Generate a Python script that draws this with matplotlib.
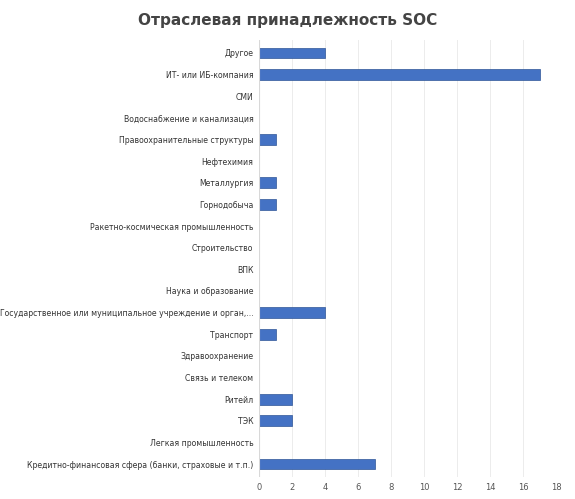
import matplotlib
matplotlib.use('Agg')
from matplotlib import pyplot as plt

categories = ['Другое', 'ИТ- или ИБ-компания', 'СМИ', 'Водоснабжение и канализация',
              'Правоохранительные структуры', 'Нефтехимия', 'Металлургия', 'Горнодобыча',
              'Ракетно-космическая промышленность', 'Строительство', 'ВПК',
              'Наука и образование', 'Государственное или муниципальное учреждение и орган,...',
              'Транспорт', 'Здравоохранение', 'Связь и телеком', 'Ритейл', 'ТЭК',
              'Легкая промышленность', 'Кредитно-финансовая сфера (банки, страховые и т.п.)']
values = [4, 17, 0, 0, 1, 0, 1, 1, 0, 0, 0, 0, 4, 1, 0, 0, 2, 2, 0, 7]
xticks = [0, 2, 4, 6, 8, 10, 12, 14, 16, 18]

fig = plt.figure(figsize=(5.75, 4.99), dpi=100)
ax = fig.add_axes([259/575, 22/499, 297/575, 437/499])
y = list(range(len(categories)))[::-1]
ax.barh(y, values, height=0.5, color='#4472c4', edgecolor='#2f5597', linewidth=0.5)
ax.set_yticks(y)
ax.set_yticklabels(categories, fontsize=5.6, color='#333333')
ax.set_xticks(xticks)
ax.set_xticklabels([str(t) for t in xticks], fontsize=6, color='#555555')
ax.set_xlim(0, 18)
ax.set_ylim(-0.6, len(categories) - 0.4)
ax.grid(axis='x', color='#ececec', linewidth=0.7)
ax.set_axisbelow(True)
for s in ax.spines.values():
    s.set_visible(False)
ax.axvline(0, color='#d8d8d8', linewidth=0.8)
ax.tick_params(length=0, pad=4)
fig.text(0.5, 0.958, 'Отраслевая принадлежность SOC', ha='center', va='center',
         fontsize=11, fontweight='bold', color='#444444')
fig.savefig('out.png', dpi=100)
